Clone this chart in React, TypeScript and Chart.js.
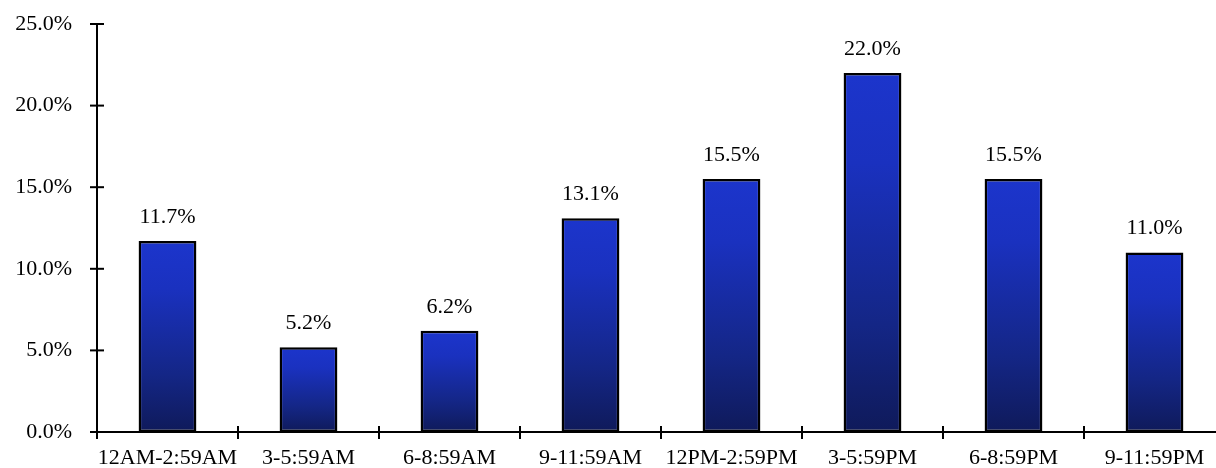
import React, { useEffect, useRef } from 'react';
import { Chart, registerables } from 'chart.js';

Chart.register(...registerables);

// Share of trips by time-of-day slot
const timeSlots = [
  '12AM-2:59AM',
  '3-5:59AM',
  '6-8:59AM',
  '9-11:59AM',
  '12PM-2:59PM',
  '3-5:59PM',
  '6-8:59PM',
  '9-11:59PM',
];
const shareOfTrips = [11.7, 5.2, 6.2, 13.1, 15.5, 22.0, 15.5, 11.0];
const yMin = 0;
const yMax = 25;
const yStep = 5;

const FONT_FAMILY = '"Liberation Serif", "Times New Roman", serif';
const FONT_SIZE = 22;

const pct = (v: number) => v.toFixed(1) + '%';

// Each bar fades from bright blue at its top to deep navy at the baseline
const barFill = (ctx: any) => {
  const chart = ctx.chart;
  const { chartArea, scales } = chart;
  if (!chartArea) return '#1b33c9';
  const top = scales.y.getPixelForValue(ctx.raw);
  const bottom = scales.y.getPixelForValue(0);
  const g = chart.ctx.createLinearGradient(0, top, 0, bottom);
  g.addColorStop(0, '#1c35cc');
  g.addColorStop(0.25, '#1a31bf');
  g.addColorStop(0.7, '#142686');
  g.addColorStop(1, '#0f1a5a');
  return g;
};

// Axis lines with tick marks that cross them
const crossAxes = {
  id: 'crossAxes',
  afterDatasetsDraw(chart: any) {
    const { ctx, chartArea, scales } = chart;
    const { x, y } = scales;
    const seg = (x1: number, y1: number, x2: number, y2: number) => {
      ctx.beginPath();
      ctx.moveTo(x1, y1);
      ctx.lineTo(x2, y2);
      ctx.stroke();
    };
    ctx.save();
    ctx.strokeStyle = '#000';
    ctx.lineWidth = 2;
    ctx.lineCap = 'butt';
    seg(chartArea.left, chartArea.top - 1, chartArea.left, chartArea.bottom);
    seg(chartArea.left - 7, chartArea.bottom, chartArea.right, chartArea.bottom);
    y.ticks.forEach((t: any) => {
      const py = y.getPixelForValue(t.value);
      seg(chartArea.left - 7, py, chartArea.left + 7, py);
    });
    for (let i = 0; i <= timeSlots.length; i++) {
      const px = x.getPixelForValue(i - 0.5);
      seg(px, chartArea.bottom - 6, px, chartArea.bottom + 7);
    }
    ctx.restore();
  },
};

// Value labels above each bar
const valueLabels = {
  id: 'valueLabels',
  afterDatasetsDraw(chart: any) {
    const { ctx } = chart;
    const meta = chart.getDatasetMeta(0);
    ctx.save();
    ctx.fillStyle = '#000';
    ctx.font = `${FONT_SIZE}px ${FONT_FAMILY}`;
    ctx.textAlign = 'center';
    ctx.textBaseline = 'alphabetic';
    meta.data.forEach((bar: any, i: number) => {
      ctx.fillText(pct(shareOfTrips[i]), bar.x, bar.y - 18);
    });
    ctx.restore();
  },
};

export default function App() {
  const canvasRef = useRef<HTMLCanvasElement | null>(null);

  useEffect(() => {
    const canvas = canvasRef.current;
    if (!canvas) return;
    const chart = new Chart(canvas, {
      type: 'bar',
      data: {
        labels: timeSlots,
        datasets: [
          {
            data: shareOfTrips,
            backgroundColor: barFill,
            borderColor: '#000',
            borderWidth: 2.5,
            borderSkipped: false,
            categoryPercentage: 1,
            barPercentage: 0.41,
          },
        ],
      },
      options: {
        responsive: false,
        animation: false,
        layout: { padding: { top: 24, right: 15, bottom: 0, left: 0 } },
        plugins: {
          legend: { display: false },
          tooltip: { enabled: false },
        },
        scales: {
          x: {
            grid: { display: false, drawTicks: false },
            border: { display: false },
            ticks: {
              color: '#000',
              padding: 13,
              maxRotation: 0,
              autoSkip: false,
              font: { family: FONT_FAMILY, size: FONT_SIZE },
            },
            afterFit: (scale: any) => {
              scale.height = 36;
              scale.paddingLeft = 0;
              scale.paddingRight = 0;
              scale.paddingTop = 0;
              scale.paddingBottom = 0;
            },
          },
          y: {
            min: yMin,
            max: yMax,
            grid: { display: false, drawTicks: false },
            border: { display: false },
            ticks: {
              stepSize: yStep,
              color: '#000',
              padding: 25,
              font: { family: FONT_FAMILY, size: FONT_SIZE },
              callback: (v: any) => pct(Number(v)),
            },
            afterFit: (scale: any) => {
              scale.width = 97;
              scale.paddingTop = 0;
              scale.paddingBottom = 0;
              scale.paddingLeft = 0;
              scale.paddingRight = 0;
            },
          },
        },
      },
      plugins: [crossAxes, valueLabels],
    });
    return () => chart.destroy();
  }, []);

  return (
    <div
      style={{
        position: 'fixed',
        left: 0,
        top: 0,
        width: 1216,
        height: 468,
        overflow: 'hidden',
        background: '#fff',
      }}
    >
      <canvas ref={canvasRef} width={1240} height={468} style={{ display: 'block' }} />
    </div>
  );
}
